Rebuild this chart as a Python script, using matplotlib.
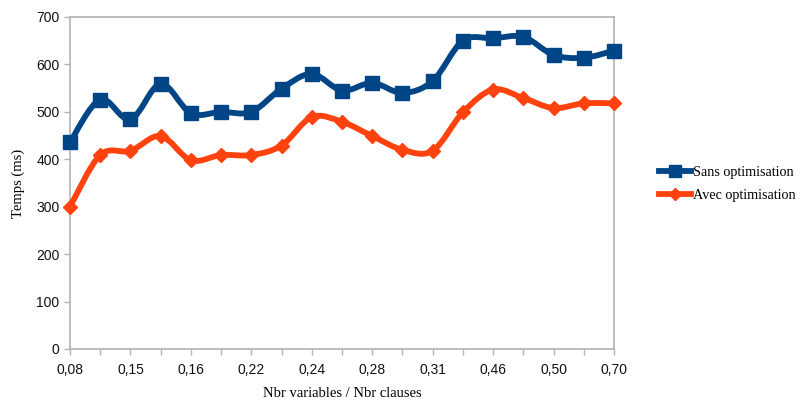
import matplotlib
matplotlib.use("Agg")
import matplotlib.pyplot as plt
from matplotlib.path import Path
from matplotlib.patches import PathPatch
from matplotlib.lines import Line2D

ratios = ["0,08", "", "0,15", "", "0,16", "", "0,22", "", "0,24", "",
          "0,28", "", "0,31", "", "0,46", "", "0,50", "", "0,70"]
sans_opt = [436, 526, 484, 559, 497, 500, 500, 549, 580, 545,
            561, 540, 565, 650, 655, 658, 620, 614, 629]
avec_opt = [300, 409, 418, 449, 398, 409, 409, 429, 489, 479,
            449, 420, 418, 499, 547, 529, 508, 518, 518]

BLUE = "#004586"
ORANGE = "#ff420e"
GRID = "#b3b3b3"


def smooth_path(xs, ys):
    # catmull-rom curve through the points, as cubic bezier segments
    verts = [(xs[0], ys[0])]
    codes = [Path.MOVETO]
    n = len(xs)
    for i in range(n - 1):
        x0, y0 = (xs[i - 1], ys[i - 1]) if i > 0 else (xs[i], ys[i])
        x1, y1 = xs[i], ys[i]
        x2, y2 = xs[i + 1], ys[i + 1]
        x3, y3 = (xs[i + 2], ys[i + 2]) if i + 2 < n else (x2, y2)
        c1 = (x1 + (x2 - x0) / 6, y1 + (y2 - y0) / 6)
        c2 = (x2 - (x3 - x1) / 6, y2 - (y3 - y1) / 6)
        verts += [c1, c2, (x2, y2)]
        codes += [Path.CURVE4] * 3
    return Path(verts, codes)


fig = plt.figure(figsize=(8.03, 4.01), dpi=100)
ax = fig.add_axes([70 / 803, 52 / 401, 544 / 803, 332 / 401])

x = list(range(len(ratios)))
for ys, col, mk, ms in [(sans_opt, BLUE, "s", 10), (avec_opt, ORANGE, "D", 7)]:
    ax.add_patch(PathPatch(smooth_path(x, ys), facecolor="none", edgecolor=col,
                           lw=4.2, capstyle="round", joinstyle="round", zorder=3))
    ax.plot(x, ys, ls="none", marker=mk, ms=ms, color=col, zorder=4, clip_on=False)

ax.set_xlim(0, 18)
ax.set_ylim(0, 700)
ax.set_yticks(range(0, 701, 100))
ax.set_xticks(x)
ax.set_xticklabels(ratios)

for s in ax.spines.values():
    s.set_color(GRID)
    s.set_linewidth(1.2)
ax.tick_params(axis="both", colors=GRID, length=4, width=1)
for lab in ax.get_xticklabels() + ax.get_yticklabels():
    lab.set_color("#111111")
    lab.set_fontfamily("Liberation Sans")
    lab.set_fontsize(10)
ax.tick_params(axis="x", pad=6)

ax.set_xlabel("Nbr variables / Nbr clauses", family="Liberation Serif",
              fontsize=10.5, labelpad=7)
ax.set_ylabel("Temps (ms)", family="Liberation Serif", fontsize=10.5, labelpad=8)

handles = [Line2D([], [], color=BLUE, lw=4.2, marker="s", ms=8),
           Line2D([], [], color=ORANGE, lw=4.2, marker="D", ms=6)]
fig.legend(handles, ["Sans optimisation", "Avec optimisation"],
           loc="center left", bbox_to_anchor=(646 / 803, 1 - 184 / 401),
           frameon=False, handlelength=2.3, handletextpad=0.1, labelspacing=0.75,
           prop={"family": "Liberation Serif", "size": 10.2})

fig.savefig("out.png", dpi=100)
